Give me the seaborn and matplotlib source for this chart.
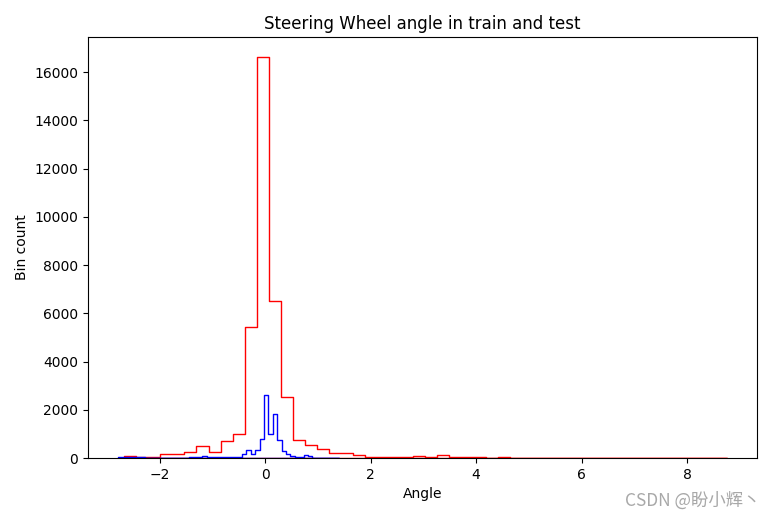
import numpy as np
import pandas as pd
import matplotlib
matplotlib.use("Agg")
import matplotlib.pyplot as plt
import seaborn as sns

# ---- data ----
train_range = (-2.67, 8.75)
train_counts = [100, 50, 50, 170, 170, 230, 500, 250, 720, 980,
                5440, 16630, 6520, 2530, 740, 520, 380, 210, 210, 120,
                60, 60, 60, 60, 100, 60, 110, 60, 60, 60,
                0, 60, 3, 2, 2, 2, 1, 1, 1, 1,
                1, 1, 1, 1, 1, 1, 1, 1, 1, 2]

test_range = (-2.78, 1.40)
test_counts = [40, 40, 50, 40, 40, 40, 0, 0, 0, 0,
               0, 0, 0, 0, 0, 0, 30, 40, 40, 95,
               40, 40, 40, 40, 40, 40, 40, 40, 180, 315,
               160, 350, 795, 2630, 990, 1845, 760, 300, 165, 100,
               50, 60, 110, 100, 20, 2, 1, 1, 1, 2]

title = "Steering Wheel angle in train and test"
xlabel = "Angle"
ylabel = "Bin count"
watermark = "CSDN @盼小辉丶"


def hist_frame(rng, counts):
    edges = np.linspace(rng[0], rng[1], len(counts) + 1)
    centers = (edges[:-1] + edges[1:]) / 2
    return pd.DataFrame({"angle": centers, "count": counts}), [float(e) for e in edges]


train_df, train_edges = hist_frame(train_range, train_counts)
test_df, test_edges = hist_frame(test_range, test_counts)

fig = plt.figure(figsize=(7.73, 5.16), dpi=100)
ax = fig.add_axes([88 / 773, 1 - 458 / 516, (757 - 88) / 773, (458 - 37) / 516])

sns.histplot(data=train_df, x="angle", weights="count", bins=train_edges,
             element="step", fill=True, facecolor="none", color="red",
             edgecolor="red", linewidth=1, alpha=1, ax=ax)
sns.histplot(data=test_df, x="angle", weights="count", bins=test_edges,
             element="step", fill=True, facecolor="none", color="blue",
             edgecolor="blue", linewidth=1, alpha=1, ax=ax)

xmin = min(train_range[0], test_range[0])
xmax = max(train_range[1], test_range[1])
pad = 0.05 * (xmax - xmin)
ax.set_xlim(xmin - pad, xmax + pad)
ax.set_ylim(0, max(train_counts) * 1.05)

ax.set_title(title, fontsize=12)
ax.set_xlabel(xlabel, fontsize=10)
ax.set_ylabel(ylabel, fontsize=10)

fig.text(0.984, 0.012, watermark, ha="right", va="bottom", fontsize=12.5,
         color="#a8a8a8", family=["Noto Sans CJK SC", "DejaVu Sans"])

fig.savefig("out.png", dpi=100)
